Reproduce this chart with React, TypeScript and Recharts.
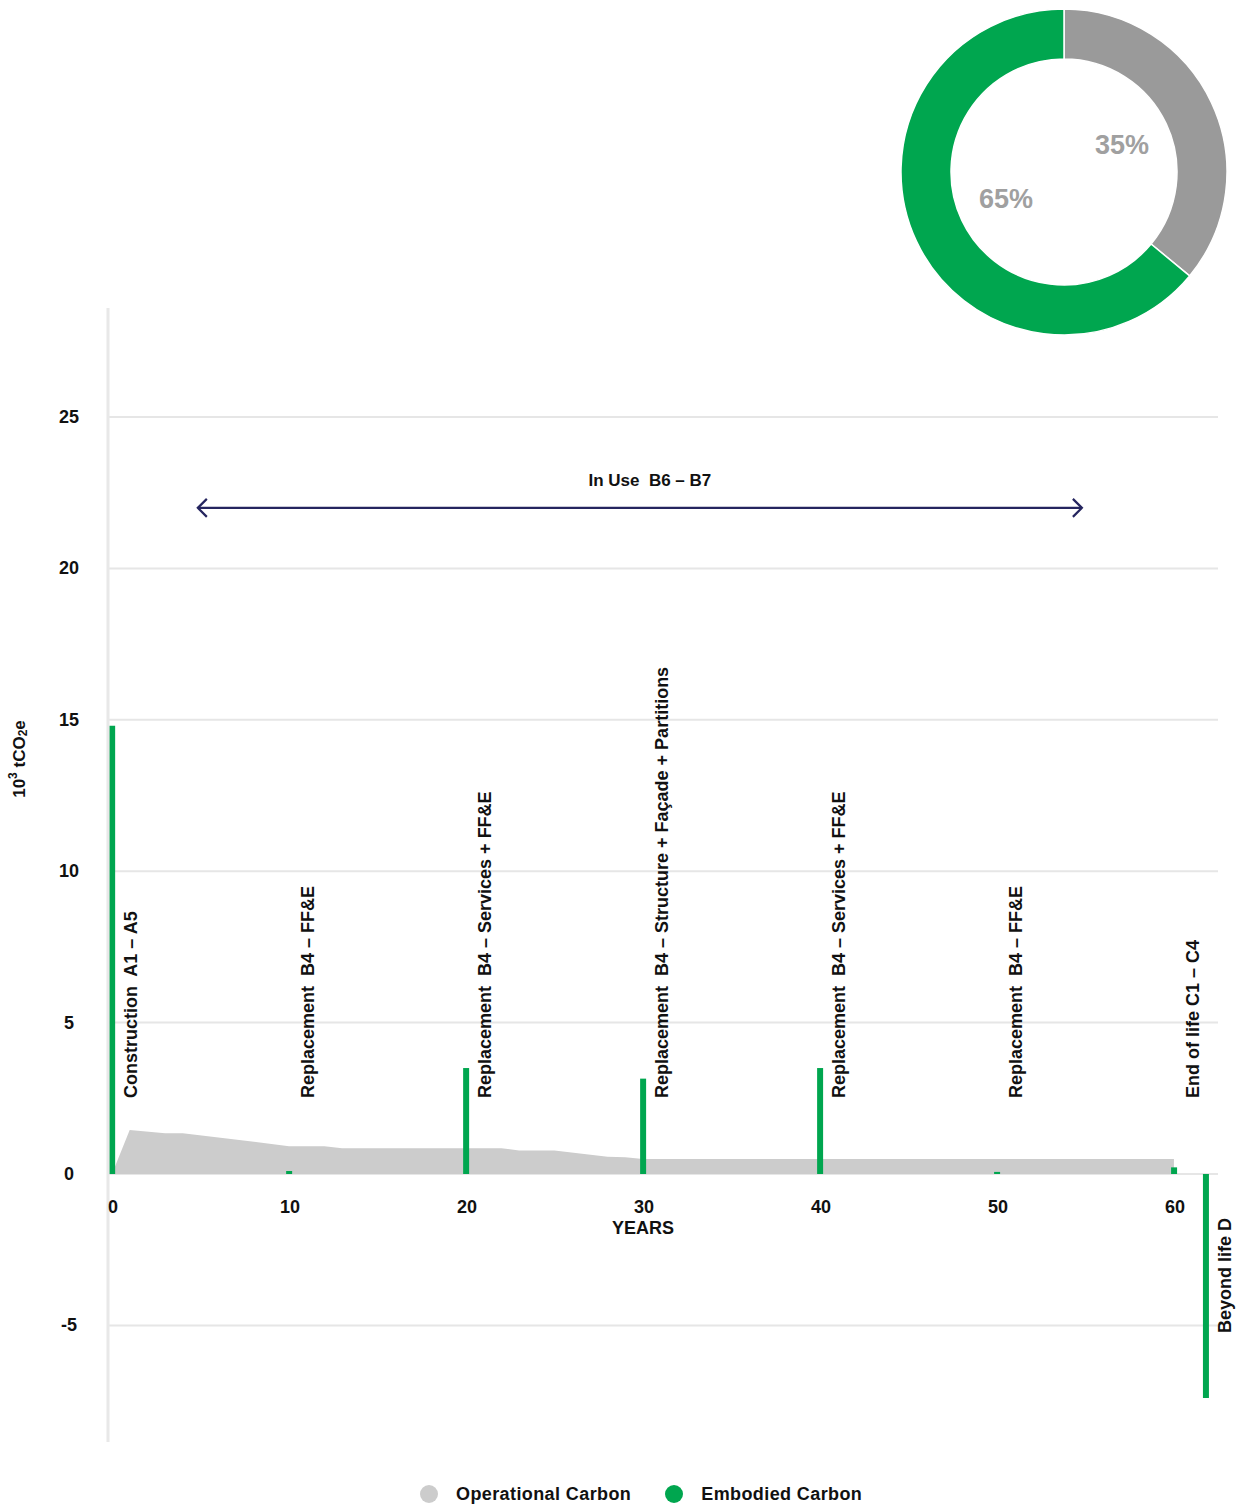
import {
  ComposedChart,
  Area,
  Bar,
  LabelList,
  XAxis,
  YAxis,
  CartesianGrid,
  ReferenceLine,
  PieChart,
  Pie,
  Cell,
} from "recharts";

// operational carbon, read per year (10^3 tCO2e)
const opYears = [0, 1, 3, 4, 10, 12, 13, 20, 22, 23, 25, 28, 29, 30, 40, 50, 60];
const operational = [0, 1.45, 1.35, 1.35, 0.92, 0.92, 0.85, 0.85, 0.85, 0.78, 0.78, 0.57, 0.55, 0.5, 0.5, 0.5, 0.5];

// embodied carbon, one bar per life-cycle stage
const stageYears = [0, 10, 20, 30, 40, 50, 60, 61.8];
const embodied = [14.8, 0.1, 3.5, 3.15, 3.5, 0.07, 0.22, -7.4];
const stageLabels = [
  "Construction  A1 – A5",
  "Replacement  B4 – FF&E",
  "Replacement  B4 – Services + FF&E",
  "Replacement  B4 – Structure + Façade + Partitions",
  "Replacement  B4 – Services + FF&E",
  "Replacement  B4 – FF&E",
  "End of life C1 – C4",
  "Beyond life D",
];

const yTicks = [-5, 0, 5, 10, 15, 20, 25];
const xTicks = [0, 10, 20, 30, 40, 50, 60];

const inUseText = "In Use  B6 – B7";
const inUseFrom = 4.85;
const inUseTo = 54.8;
const inUseLevel = 22;

// donut: slice sizes as drawn, labels as printed
const shareNames = ["Operational Carbon", "Embodied Carbon"];
const shareValues = [36, 64];
const shareLabels = ["35%", "65%"];

const GREEN = "#00a64f";
const AREA_GREY = "#cccccc";
const PIE_GREY = "#9a9a9a";
const GRID = "#e6e6e6";
const NAVY = "#25255f";
const FONT = "'Liberation Sans', Arial, Helvetica, sans-serif";

const legendColors = [AREA_GREY, GREEN];
const pieColors = [PIE_GREY, GREEN];

// merge both series on one year column
const allYears = Array.from(new Set([...opYears, ...stageYears])).sort((a, b) => a - b);
const table = allYears.map((year) => {
  const oi = opYears.indexOf(year);
  const si = stageYears.indexOf(year);
  return {
    year,
    op: oi >= 0 ? operational[oi] : null,
    emb: si >= 0 ? embodied[si] : null,
    label: si >= 0 ? stageLabels[si] : null,
  };
});

const RADIAN = Math.PI / 180;

function YTick(props: any) {
  const { x, y, payload } = props;
  return (
    <text x={x} y={y} textAnchor="middle" dominantBaseline="central"
      fontFamily={FONT} fontWeight={700} fontSize={18} fill="#111">
      {payload.value}
    </text>
  );
}

function XTick(props: any) {
  const { x, y, payload } = props;
  const up = 235;
  return (
    <g>
      <text x={x + 1} y={y - up} textAnchor="middle" dominantBaseline="central"
        fontFamily={FONT} fontWeight={700} fontSize={18} fill="#111">
        {payload.value}
      </text>
      {payload.value === 30 && (
        <text x={x} y={y - up + 21} textAnchor="middle" dominantBaseline="central"
          fontFamily={FONT} fontWeight={700} fontSize={18} fill="#111">
          YEARS
        </text>
      )}
    </g>
  );
}

function renderYTitle(props: any) {
  const vb = props.viewBox;
  const x = vb.x + 11;
  const y = vb.y + 451;
  return (
    <text x={x} y={y} transform={`rotate(-90 ${x} ${y})`} textAnchor="middle"
      dominantBaseline="central" fontFamily={FONT} fontWeight={700} fontSize={17} fill="#111">
      <tspan>10</tspan>
      <tspan dy={-6} fontSize={12}>3</tspan>
      <tspan dy={6}> tCO</tspan>
      <tspan dy={4} fontSize={12}>2</tspan>
      <tspan dy={-4}>e</tspan>
    </text>
  );
}

function renderStageLabel(props: any) {
  const text = props.value;
  if (!text) return null;
  const vb = props.viewBox ?? props;
  const { x, y, width, height } = vb;
  const i = stageLabels.indexOf(text);
  const neg = embodied[i] < 0;
  const zeroY = neg ? Math.min(y, y + height) : Math.max(y, y + height);
  const tx = x + width / 2 + 19;
  const ty = neg ? zeroY + 159 : zeroY - 76;
  return (
    <text x={tx} y={ty} transform={`rotate(-90 ${tx} ${ty})`} textAnchor="start"
      dominantBaseline="central" fontFamily={FONT} fontWeight={700} fontSize={18}
      fill="#111" style={{ whiteSpace: "pre" }}>
      {text}
    </text>
  );
}

function renderArrow(props: any) {
  const { x1, y1, x2, y2 } = props;
  const mid = (x1 + x2) / 2 + 10;
  return (
    <g>
      <line x1={x1} y1={y1} x2={x2} y2={y2} stroke={NAVY} strokeWidth={2.2} />
      <polyline points={`${x1 + 9},${y1 - 9} ${x1},${y1} ${x1 + 9},${y1 + 9}`}
        fill="none" stroke={NAVY} strokeWidth={2.2} />
      <polyline points={`${x2 - 9},${y2 - 9} ${x2},${y2} ${x2 - 9},${y2 + 9}`}
        fill="none" stroke={NAVY} strokeWidth={2.2} />
      <text x={mid} y={y1 - 27} textAnchor="middle" dominantBaseline="central"
        fontFamily={FONT} fontWeight={700} fontSize={17} fill="#111"
        style={{ whiteSpace: "pre" }}>
        {inUseText}
      </text>
    </g>
  );
}

function renderShareLabel(props: any) {
  const { cx, cy, midAngle, index } = props;
  const r = 64;
  const lx = cx + r * Math.cos(-midAngle * RADIAN);
  const ly = cy + r * Math.sin(-midAngle * RADIAN);
  return (
    <text x={lx} y={ly} textAnchor="middle" dominantBaseline="central"
      fontFamily={FONT} fontWeight={700} fontSize={27} fill="#a0a0a0">
      {shareLabels[index]}
    </text>
  );
}

const pieData = shareNames.map((name, i) => ({ name, value: shareValues[i] }));

export default function App() {
  return (
    <div style={{ position: "absolute", left: 0, top: 0, width: 1239, height: 1509, background: "#fff" }}>

      <div style={{ position: "absolute", left: 0, top: 0 }}>
        <ComposedChart
          width={1239}
          height={1509}
          data={table}
          margin={{ top: 308, right: 21, bottom: 47, left: 8 }}
        >
          <CartesianGrid vertical={false} horizontalValues={yTicks} stroke={GRID} strokeWidth={2} />

          <XAxis
            type="number"
            dataKey="year"
            domain={[-0.226, 62.49]}
            ticks={xTicks}
            allowDataOverflow
            axisLine={false}
            tickLine={false}
            tickSize={0}
            tickMargin={0}
            height={20}
            tick={<XTick />}
            interval={0}
          />

          <YAxis
            type="number"
            domain={[-8.85, 28.6]}
            ticks={yTicks}
            allowDataOverflow
            width={100}
            axisLine={{ stroke: "#e8e8e8", strokeWidth: 3 }}
            tickLine={false}
            tickSize={0}
            tickMargin={39}
            tick={<YTick />}
            interval={0}
            label={{ content: renderYTitle }}
          />

          <Area
            type="linear"
            dataKey="op"
            fill={AREA_GREY}
            fillOpacity={1}
            stroke="none"
            isAnimationActive={false}
          />

          <Bar dataKey="emb" fill={GREEN} barSize={6} isAnimationActive={false}>
            <LabelList dataKey="label" content={renderStageLabel} />
          </Bar>

          <ReferenceLine
            segment={[{ x: inUseFrom, y: inUseLevel }, { x: inUseTo, y: inUseLevel }]}
            shape={renderArrow}
          />
        </ComposedChart>
      </div>

      <div style={{ position: "absolute", left: 894, top: 2 }}>
        <PieChart width={340} height={340}>
          <Pie
            data={pieData}
            dataKey="value"
            cx="50%"
            cy="50%"
            innerRadius={113}
            outerRadius={163}
            startAngle={90}
            endAngle={-270}
            stroke="#fff"
            strokeWidth={1.5}
            labelLine={false}
            label={renderShareLabel}
            isAnimationActive={false}
          >
            {pieData.map((_, index) => (
              <Cell key={index} fill={pieColors[index]} />
            ))}
          </Pie>
        </PieChart>
      </div>

      <div style={{
        position: "absolute", left: 420, top: 1484, display: "flex", alignItems: "center",
        fontFamily: FONT, fontWeight: 700, fontSize: 18, color: "#111", lineHeight: "20px",
        letterSpacing: 0.4,
      }}>
        {shareNames.map((name, i) => (
          <div key={name} style={{ display: "flex", alignItems: "center", marginLeft: i === 0 ? 0 : 34 }}>
            <span style={{ width: 18, height: 18, borderRadius: 9, background: legendColors[i], display: "inline-block" }} />
            <span style={{ marginLeft: 18 }}>{name}</span>
          </div>
        ))}
      </div>

    </div>
  );
}
